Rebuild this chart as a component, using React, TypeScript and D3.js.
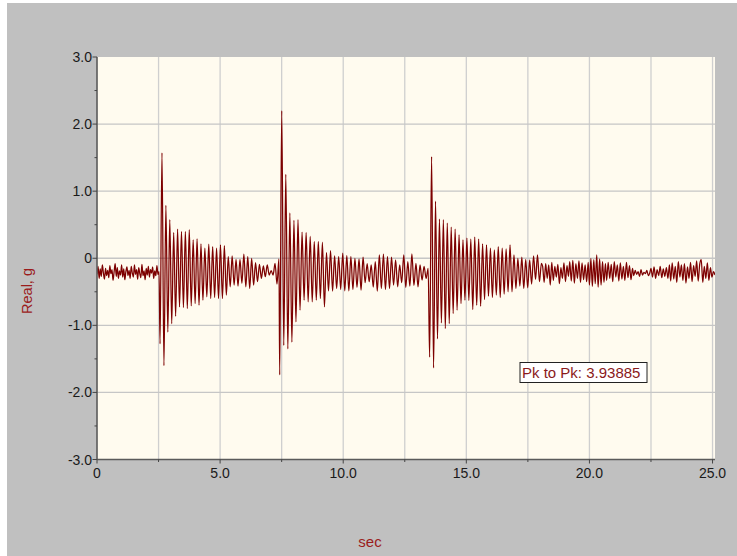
import React from "react";
import * as d3 from "d3";

// Accelerometer trace (real part, in g) – extremes of each oscillation, in time order.
const quietLead = [-0.24,-0.12,-0.3,-0.16,-0.27,-0.1,-0.22,-0.31,-0.15,-0.26,-0.18,-0.29,-0.11,-0.23,-0.17,-0.33,-0.2,-0.08,-0.27,-0.14,-0.3,-0.19,-0.25,-0.1,-0.28,-0.16,-0.32,-0.2,-0.13,-0.26,-0.18,-0.3,-0.12,-0.22,-0.28,-0.1,-0.24,-0.17,-0.31,-0.14,-0.23,-0.29,-0.09,-0.26,-0.19,-0.32,-0.15,-0.25,-0.12,-0.28,-0.17,-0.22,-0.13,-0.3,-0.19,-0.26,-0.11,-0.24,-0.2];

const burst1 = [-1.275,1.57,-1.6,0.79,-1.1,0.575,-0.975,0.385,-0.865,0.435,-0.725,0.4,-0.735,0.4,-0.75,0.425,-0.71,0.275,-0.675,0.29,-0.7,0.215,-0.625,0.15,-0.575,0.21,-0.6,0.175,-0.585,0.15,-0.6,0.2,-0.6,0.19,-0.55,0.025,-0.425,0.035,-0.4,-0.015,-0.415,-0.015,-0.375,0.06,-0.425,0.025,-0.45,0.0,-0.4,-0.065,-0.35,-0.09,-0.3,-0.115,-0.275,-0.1,-0.25,-0.185,-0.25,-0.075,-0.385,-0.01];

const burst2 = [-1.74,2.19885,-1.3,1.25,-1.35,0.675,-1.25,0.565,-0.95,0.575,-0.775,0.39,-0.625,0.385,-0.65,0.325,-0.65,0.25,-0.625,0.25,-0.6,0.24,-0.725,0.085,-0.485,0.115,-0.49,0.035,-0.45,0.025,-0.465,0.075,-0.485,0.04,-0.485,0.025,-0.465,0.0,-0.435,-0.01,-0.475,0.015,-0.365,-0.08,-0.35,-0.1,-0.43,-0.05,-0.49,0.05,-0.45,0.06,-0.465,0.025,-0.45,0.015,-0.4,-0.025,-0.425,-0.1,-0.365,0.05,-0.435,-0.05,-0.415,0.065,-0.405,-0.075,-0.425,-0.1,-0.325,-0.12,-0.3,-0.15];

const burst3 = [-1.475,1.515,-1.635,0.85,-1.2,0.585,-0.965,0.575,-1.05,0.525,-0.975,0.465,-0.825,0.435,-0.775,0.35,-0.675,0.275,-0.625,0.3,-0.63,0.285,-0.765,0.315,-0.7,0.285,-0.715,0.215,-0.615,0.2,-0.565,0.15,-0.585,0.125,-0.55,0.175,-0.585,0.15,-0.535,0.14,-0.5,0.2,-0.5,0.05,-0.45,0.0,-0.415,0.015,-0.45,-0.015,-0.44,-0.025,-0.385,0.035,-0.315,0.05,-0.35,-0.075];

const tailA = [-0.12,-0.36,-0.08,-0.3,-0.1,-0.4,-0.06,-0.33,-0.12,-0.28,-0.09,-0.38,-0.14,-0.3,-0.07,-0.35,-0.11,-0.27];
const tailB = [-0.05,-0.34,-0.03,-0.37,-0.08,-0.3,-0.04,-0.36,-0.07,-0.32,-0.1,-0.35,-0.06];
const tailC = [-0.4,0.0,-0.42,-0.02,-0.38,0.05,-0.43,-0.01,-0.4,-0.05,-0.36,-0.08];
const tailD = [-0.33,-0.06,-0.3,-0.09,-0.35,-0.05,-0.28,-0.1,-0.34,-0.07,-0.31,-0.12,-0.33,-0.06,-0.29,-0.11,-0.32,-0.15];
const tailE = [-0.26,-0.18,-0.24,-0.2,-0.27,-0.17,-0.25,-0.21,-0.23,-0.18,-0.26,-0.22];
const tailF = [-0.15,-0.28,-0.13,-0.3,-0.17,-0.26,-0.12,-0.29,-0.16,-0.27,-0.14,-0.3,-0.1];
const tailG = [-0.34,-0.07,-0.31,-0.12,-0.36,-0.05,-0.28,-0.1,-0.33,-0.08,-0.37,-0.13,-0.3,-0.06,-0.35,-0.11,-0.27,-0.04,-0.34,-0.09,-0.02,-0.36,-0.12,-0.3,-0.07,-0.33,-0.14,-0.28,-0.2,-0.25];

// Start / end time (s) of each recorded stretch above
const segmentSpans: [number, number][] = [
  [0, 2.52], [2.56, 7.39], [7.42, 13.45], [13.51, 18.05],
  [18.1, 19.15], [19.2, 19.95], [20.0, 20.65], [20.7, 21.75],
  [21.8, 22.45], [22.5, 23.25], [23.3, 25.1],
];
const segments = [quietLead, burst1, burst2, burst3, tailA, tailB, tailC, tailD, tailE, tailF, tailG];

const yTicks = [-3, -2, -1, 0, 1, 2, 3];
const yMinorTicks = [-2.5, -1.5, -0.5, 0.5, 1.5, 2.5];
const xTicks = [0, 5, 10, 15, 20, 25];
const xMinorTicks = [2.5, 7.5, 12.5, 17.5, 22.5];
const xGrid = [2.5, 5, 7.5, 10, 12.5, 15, 17.5, 20, 22.5, 25];
const yGrid = [-2, -1, 0, 1, 2];

const W = 737;
const H = 556;
const L = 97, R = 715, T = 57, B = 459.5;
const FONT = "'Liberation Sans', Arial, Helvetica, sans-serif";

export default function App() {
  const x = d3.scaleLinear().domain([0, 25.1]).range([L, R]);
  const y = d3.scaleLinear().domain([-3, 3]).range([B, T]);

  const points = segments.flatMap((vals, k) => {
    const [t0, t1] = segmentSpans[k];
    const step = (t1 - t0) / (vals.length - 1);
    return vals.map((v, i) => ({ t: t0 + i * step, v }));
  });

  const line = d3
    .line<{ t: number; v: number }>()
    .x((d) => x(d.t))
    .y((d) => y(d.v))
    .curve(d3.curveMonotoneX);

  const pkpk = (d3.max(points, (d) => d.v)! - d3.min(points, (d) => d.v)!).toFixed(5);

  const yLabel = (v: number) => (v === 0 ? "0" : v.toFixed(1));
  const xLabel = (v: number) => (v === 0 ? "0" : v.toFixed(1));

  return (
    <svg
      width={W}
      height={H}
      style={{ position: "absolute", left: 0, top: 0, display: "block" }}
      fontFamily={FONT}
    >
      <rect x={0} y={0} width={W} height={H} fill="#ffffff" />
      <rect x={7} y={3} width={W - 7} height={H - 3} fill="#c0c0c0" />
      <rect x={L} y={T} width={R - L} height={B - T} fill="#fffbef" />

      <defs>
        <clipPath id="plot-clip">
          <rect x={L} y={T} width={R - L} height={B - T} />
        </clipPath>
      </defs>

      {/* grid */}
      {xGrid.map((v) => (
        <line key={"gx" + v} x1={x(v)} x2={x(v)} y1={T} y2={B} stroke="#cfcfcf" strokeWidth={1.3} />
      ))}
      {yGrid.map((v) => (
        <line key={"gy" + v} x1={L} x2={R} y1={y(v)} y2={y(v)} stroke="#c6c6c6" strokeWidth={1.3} />
      ))}

      {/* signal */}
      <path
        d={line(points) || ""}
        fill="none"
        stroke="#7d0000"
        strokeWidth={1.25}
        strokeLinejoin="round"
        clipPath="url(#plot-clip)"
      />

      {/* axes */}
      <line x1={L} x2={L} y1={T} y2={B} stroke="#5a5a5a" strokeWidth={1.6} />
      <line x1={L} x2={R} y1={B} y2={B} stroke="#5a5a5a" strokeWidth={1.6} />
      {yTicks.map((v) => (
        <g key={"yt" + v}>
          <line x1={L - 4.5} x2={L} y1={y(v)} y2={y(v)} stroke="#444" strokeWidth={1} />
          <text x={92} y={y(v) + 5} textAnchor="end" fontSize={14} fill="#1a1a1a">
            {yLabel(v)}
          </text>
        </g>
      ))}
      {yMinorTicks.map((v) => (
        <line key={"ym" + v} x1={L - 2.5} x2={L} y1={y(v)} y2={y(v)} stroke="#444" strokeWidth={1} />
      ))}
      {xTicks.map((v) => (
        <g key={"xt" + v}>
          <line x1={x(v)} x2={x(v)} y1={B} y2={B + 4} stroke="#444" strokeWidth={1} />
          <text x={x(v)} y={477.5} textAnchor="middle" fontSize={14} fill="#1a1a1a">
            {xLabel(v)}
          </text>
        </g>
      ))}
      {xMinorTicks.map((v) => (
        <line key={"xm" + v} x1={x(v)} x2={x(v)} y1={B} y2={B + 2.5} stroke="#444" strokeWidth={1} />
      ))}

      {/* axis titles */}
      <text
        transform="translate(32,291) rotate(-90)"
        textAnchor="middle"
        fontSize={14.5}
        fill="#9b1c1c"
      >
        Real, g
      </text>
      <text x={370} y={547} textAnchor="middle" fontSize={15} fill="#9b1c1c">
        sec
      </text>

      {/* peak-to-peak readout */}
      <rect x={520} y={362.5} width={127} height={20} fill="#ffffff" stroke="#222" strokeWidth={1} />
      <text x={522} y={377.5} fontSize={15} fill="#8b1a1a">
        {`Pk to Pk: ${pkpk}`}
      </text>
    </svg>
  );
}
